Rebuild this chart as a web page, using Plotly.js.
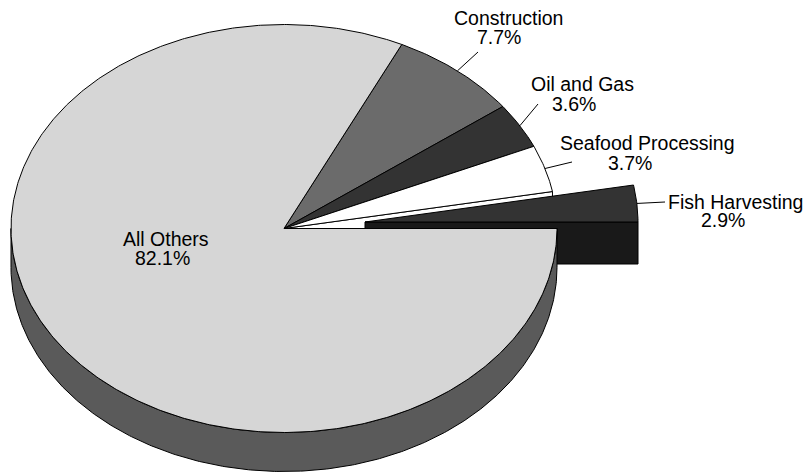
<!DOCTYPE html>
<html><head><meta charset="utf-8">
<script src="https://cdn.plot.ly/plotly-3.0.1.min.js"></script>
<style>html,body{margin:0;padding:0;background:#fff}#c{width:805px;height:472px}</style>
</head><body><div id="c"></div>
<script>
// Data
var categories = ["All Others","Construction","Oil and Gas","Seafood Processing","Fish Harvesting"];
var shares = [82.1,7.7,3.6,3.7,2.9];
var topColors = ["#d6d6d6","#6b6b6b","#333333","#ffffff","#333333"];
var sideColors = ["#5a5a5a","#444444","#222222","#ffffff","#191919"];
// Label placement
var labelNameX = [166,508,582,647,735.5];
var labelValueX = [162.5,499,574,630,723];
var labelNameY = [239,18,84,143,202];
var labelValueY = [258,37,104,163,220];
// Outer end of leader lines
var leaderEnd = [null,[478,52],[538,104],[572,162],[665,202]];
// Projection
var cx=284, cy=228.5, rx=273, ry=204, depth=39;
var explodeDx=81, explodeDy=-6.5, fishDepth=42;

var total = shares.reduce(function(a,b){return a+b;},0);
// slices run clockwise from 3 o'clock
var angles=[], acc=0;
shares.forEach(function(s){var a0=acc; acc+=s/total*360; angles.push([-a0,-acc]);});
function rim(t,ox,oy){var r=t*Math.PI/180; return [ox+rx*Math.cos(r), oy-ry*Math.sin(r)];}
function arc(t0,t1,ox,oy){var n=Math.max(2,Math.ceil(Math.abs(t1-t0))*2),p=[];
  for(var i=0;i<=n;i++)p.push(rim(t0+(t1-t0)*i/n,ox,oy));return p;}
function poly(pts,fill){return {type:'scatter',mode:'lines',x:pts.map(function(p){return p[0];}),y:pts.map(function(p){return p[1];}),
  fill:'toself',fillcolor:fill,line:{color:'#000',width:1},hoverinfo:'skip',showlegend:false};}
function wedge(i,ox,oy){return [[ox,oy]].concat(arc(angles[i][0],angles[i][1],ox,oy)).concat([[ox,oy]]);}

var traces=[];
// seafood cut face (mostly hidden)
var sfEnd=rim(angles[3][1],cx,cy);
traces.push(poly([[cx,cy],sfEnd,[sfEnd[0],sfEnd[1]+depth],[cx,cy+depth],[cx,cy]],sideColors[3]));
// Construction, oil & gas, seafood top faces
[1,2,3].forEach(function(i){traces.push(poly(wedge(i,cx,cy),topColors[i]));});
// Exploded fish slice: side then top
var fx=cx+explodeDx, fy=cy+explodeDy;
var fR=rim(angles[4][1],fx,fy);
traces.push(poly([[fx,fy],fR,[fR[0],fy+fishDepth],[fx,fy+fishDepth],[fx,fy]],sideColors[4]));
traces.push(poly(wedge(4,fx,fy),topColors[4]));
// Main slice side band then top
var topArc=arc(180,360,cx,cy), lowArc=arc(360,180,cx,cy+depth);
traces.push(poly(topArc.concat(lowArc).concat([topArc[0]]),sideColors[0]));
traces.push(poly(wedge(0,cx,cy),topColors[0]));
// Leader lines
leaderEnd.forEach(function(e,i){ if(!e) return;
  var mid=(angles[i][0]+angles[i][1])/2;
  var s = i===4 ? rim(mid,fx,fy) : rim(mid,cx,cy);
  traces.push({type:'scatter',mode:'lines',x:[s[0],e[0]],y:[s[1],e[1]],line:{color:'#000',width:1},hoverinfo:'skip',showlegend:false});
});
var ann=[];
categories.forEach(function(c,i){
  [[c,labelNameX[i],labelNameY[i]],[shares[i].toFixed(1)+'%',labelValueX[i],labelValueY[i]]].forEach(function(t){
    ann.push({x:t[1],y:t[2],xref:'x',yref:'y',text:t[0],showarrow:false,xanchor:'center',yanchor:'middle',
      borderpad:0,font:{family:'Liberation Sans, Arial, sans-serif',size:19.5,color:'#000'}});
  });
});
Plotly.newPlot('c',traces,{
  width:805,height:472,margin:{l:0,r:0,t:0,b:0},paper_bgcolor:'#fff',plot_bgcolor:'#fff',showlegend:false,
  xaxis:{range:[0,805],visible:false,fixedrange:true},
  yaxis:{range:[472,0],visible:false,fixedrange:true},
  annotations:ann
},{displayModeBar:false,staticPlot:true});
</script></body></html>
